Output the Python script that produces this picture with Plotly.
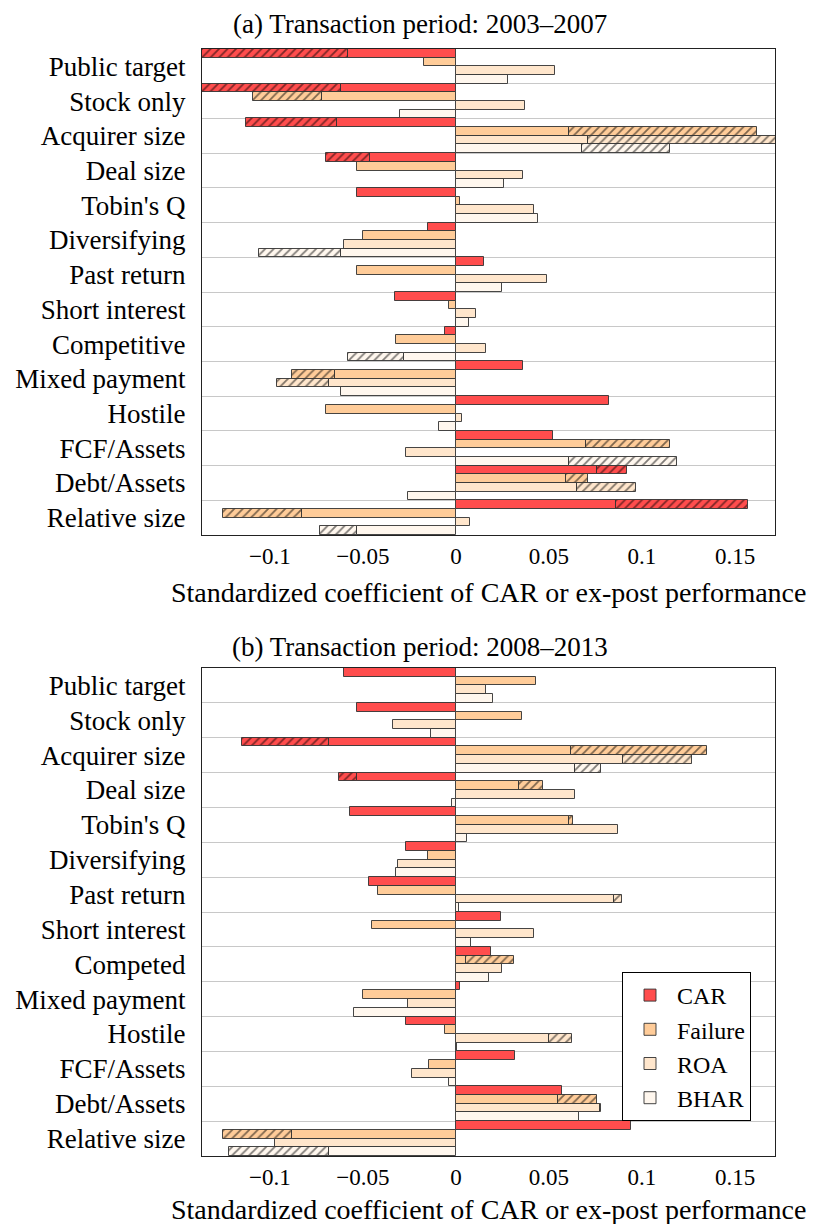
import plotly.graph_objects as go

# ---------------- data ----------------
cats_a = ["Public target", "Stock only", "Acquirer size", "Deal size", "Tobin's Q",
          "Diversifying", "Past return", "Short interest", "Competitive",
          "Mixed payment", "Hostile", "FCF/Assets", "Debt/Assets", "Relative size"]
cats_b = ["Public target", "Stock only", "Acquirer size", "Deal size", "Tobin's Q",
          "Diversifying", "Past return", "Short interest", "Competed",
          "Mixed payment", "Hostile", "FCF/Assets", "Debt/Assets", "Relative size"]

series_names = ["CAR", "Failure", "ROA", "BHAR"]

# Panel (a): 2003-2007 (solid value, and end of hatched extension where present)
car_a = [-0.058, -0.062, -0.064, -0.046, -0.053, -0.015, 0.015, -0.033, -0.006, 0.036, 0.082, 0.052, 0.076, 0.086]
car_a_ext = [-0.145, -0.145, -0.113, -0.070, None, None, None, None, None, None, None, None, 0.092, 0.157]
failure_a = [-0.017, -0.072, 0.061, -0.053, 0.002, -0.050, -0.053, -0.0035, -0.032, -0.065, -0.070, 0.070, 0.059, -0.083]
failure_a_ext = [None, -0.109, 0.162, None, None, None, None, None, None, -0.088, None, 0.115, 0.071, -0.125]
roa_a = [0.053, 0.037, 0.071, 0.036, 0.042, -0.060, 0.049, 0.011, 0.016, -0.068, 0.0035, -0.027, 0.065, 0.0075]
roa_a_ext = [None, None, 0.18, None, None, None, None, None, None, -0.096, None, None, 0.097, None]
bhar_a = [0.028, -0.030, 0.068, 0.026, 0.044, -0.062, 0.025, 0.007, -0.028, -0.062, -0.009, 0.061, -0.026, -0.053]
bhar_a_ext = [None, None, 0.115, None, None, -0.106, None, None, -0.058, None, None, 0.119, None, -0.073]

# Panel (b): 2008-2013
car_b = [-0.060, -0.053, -0.068, -0.053, -0.057, -0.027, -0.047, 0.024, 0.019, 0.002, -0.027, 0.032, 0.057, 0.094]
car_b_ext = [None, None, -0.115, -0.063, None, None, None, None, None, None, None, None, None, None]
failure_b = [0.043, 0.0355, 0.062, 0.034, 0.061, -0.015, -0.042, -0.045, 0.0055, -0.050, -0.006, -0.0145, 0.055, -0.088]
failure_b_ext = [None, None, 0.135, 0.047, 0.063, None, None, None, 0.031, None, None, None, 0.076, -0.125]
roa_b = [0.016, -0.034, 0.090, 0.064, 0.087, -0.031, 0.085, 0.042, 0.0245, -0.026, 0.050, -0.0235, 0.0775, -0.097]
roa_b_ext = [None, None, 0.127, None, None, None, 0.089, None, None, None, 0.0625, None, 0.078, None]
bhar_b = [0.020, -0.0135, 0.064, -0.002, 0.0057, -0.032, 0.0015, 0.008, 0.0175, -0.055, 0.0005, -0.0037, 0.066, -0.068]
bhar_b_ext = [None, None, 0.078, None, None, None, None, None, None, None, None, None, None, -0.122]

tick_vals = [-0.1, -0.05, 0, 0.05, 0.1, 0.15]
tick_text = ["\u22120.1", "\u22120.05", "0", "0.05", "0.1", "0.15"]

title_a = "(a) Transaction period: 2003\u20132007"
title_b = "(b) Transaction period: 2008\u20132013"
x_title = "Standardized coefficient of CAR or ex-post performance"

# ---------------- style ----------------
colors = {"CAR": "#ff4d4d", "Failure": "#ffcc99", "ROA": "#ffe6cc", "BHAR": "#fff7ee"}
OUTLINE = "rgba(50,50,50,0.9)"
FONT = "Liberation Serif"
W, H = 816, 1224
OX, OY = 8, 8  # page body margin offset


def xp(px):
    return (px - OX) / W


def yp(py):
    return 1 - (py - OY) / H


fig = go.Figure()


def add_panel(cats, data, xa, ya, showlegend):
    for name, vals, ext in data:
        col = colors[name]
        fig.add_trace(go.Bar(
            y=cats, x=vals, orientation="h", name=name, offsetgroup=name,
            legendgroup=name, showlegend=showlegend,
            marker=dict(color=col, line=dict(color=OUTLINE, width=1)),
            xaxis=xa, yaxis=ya))
        hy = [c for c, e in zip(cats, ext) if e is not None]
        hb = [v for v, e in zip(vals, ext) if e is not None]
        hx = [e - v for v, e in zip(vals, ext) if e is not None]
        fig.add_trace(go.Bar(
            y=hy, x=hx, base=hb, orientation="h", name=name, offsetgroup=name,
            legendgroup=name, showlegend=False,
            marker=dict(color=col, line=dict(color=OUTLINE, width=1),
                        pattern=dict(shape="/", fgcolor="black", bgcolor=col,
                                     size=6, solidity=0.3)),
            xaxis=xa, yaxis=ya))


add_panel(cats_a, [("CAR", car_a, car_a_ext), ("Failure", failure_a, failure_a_ext),
                   ("ROA", roa_a, roa_a_ext), ("BHAR", bhar_a, bhar_a_ext)], "x", "y", False)
add_panel(cats_b, [("CAR", car_b, car_b_ext), ("Failure", failure_b, failure_b_ext),
                   ("ROA", roa_b, roa_b_ext), ("BHAR", bhar_b, bhar_b_ext)], "x2", "y2", True)

xdom = [xp(202), xp(775)]
ydom_a = [yp(535), yp(49)]
ydom_b = [yp(1156), yp(668)]

tfont = dict(family=FONT, size=23, color="black")
xcommon = dict(range=[-0.1365, 0.1715], tickvals=tick_vals, ticktext=tick_text,
               showgrid=False, zeroline=False, showline=True, mirror=True,
               linecolor="#222", linewidth=1.2, ticks="", ticklen=0, domain=xdom,
               tickfont=tfont, automargin=False, ticklabelstandoff=0)
ycommon = dict(type="category", categoryorder="array", autorange="reversed",
               tickson="boundaries", showgrid=True, gridcolor="#c8c8c8", gridwidth=1,
               ticks="", ticklen=0, showline=True, mirror=True, linecolor="#222",
               linewidth=1.2, ticklabelstandoff=10,
               tickfont=dict(family=FONT, size=27, color="black"),
               zeroline=False, automargin=False)

annot_font = dict(family=FONT, size=27, color="black")
xt_font = dict(family=FONT, size=28, color="black")
fig.update_layout(
    width=W, height=H,
    margin=dict(l=0, r=0, t=0, b=0, autoexpand=False),
    paper_bgcolor="white", plot_bgcolor="white",
    font=dict(family=FONT, size=25, color="black"),
    barmode="group", bargap=0.0, bargroupgap=0.0,
    xaxis=dict(**xcommon, anchor="y"),
    yaxis=dict(**ycommon, domain=ydom_a, anchor="x", categoryarray=cats_a),
    xaxis2=dict(**xcommon, anchor="y2"),
    yaxis2=dict(**ycommon, domain=ydom_b, anchor="x2", categoryarray=cats_b),
    legend=dict(x=xp(622), y=yp(972), xanchor="left", yanchor="top",
                bordercolor="black", borderwidth=1, bgcolor="white",
                font=dict(family=FONT, size=24, color="black"),
                tracegroupgap=0, itemwidth=44, traceorder="normal"),
    annotations=[
        dict(text=title_a, x=xp(420), y=yp(24), xref="paper", yref="paper",
             showarrow=False, font=annot_font, xanchor="center", yanchor="middle"),
        dict(text=title_b, x=xp(420), y=yp(647), xref="paper", yref="paper",
             showarrow=False, font=annot_font, xanchor="center", yanchor="middle"),
        dict(text=x_title, x=xp(488), y=yp(592), xref="paper", yref="paper",
             showarrow=False, font=xt_font, xanchor="center", yanchor="middle"),
        dict(text=x_title, x=xp(488), y=yp(1209), xref="paper", yref="paper",
             showarrow=False, font=xt_font, xanchor="center", yanchor="middle"),
    ],
)

fig.write_html("out.html")
